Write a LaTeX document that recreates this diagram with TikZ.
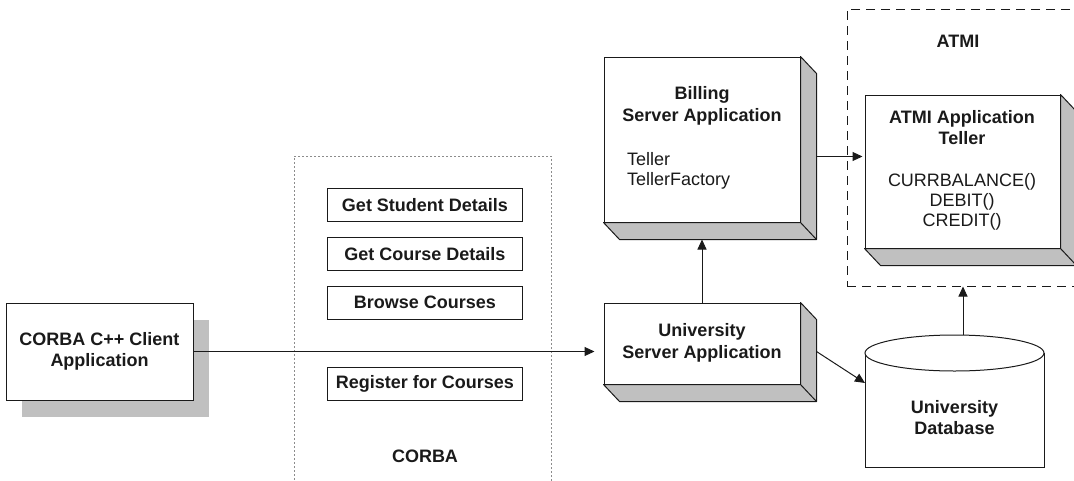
\documentclass[tikz,border=0pt]{standalone}
\usepackage{fontspec}
\setmainfont{Liberation Sans}
\usetikzlibrary{arrows.meta,shadows}
\definecolor{facegray}{HTML}{C0C0C0}
\definecolor{dotgray}{HTML}{8C8C8C}
\definecolor{inkgray}{HTML}{1A1A1A}
\tikzset{
	every node/.style={font=\fontsize{18}{20}\selectfont, text=inkgray},
	title/.style={font=\fontsize{18}{21.5}\selectfont\bfseries, align=center, inner sep=0pt},
	plain/.style={align=center, inner sep=0pt},
	front/.style={draw=inkgray, line width=1pt, fill=white, inner sep=0pt},
	oper/.style={draw=inkgray, line width=1pt, minimum width=195pt, minimum height=33pt, inner sep=0pt, font=\fontsize{18}{20}\selectfont\bfseries},
	flow/.style={draw=inkgray, line width=1pt, -{Triangle[length=10pt,width=9pt]}},
}
\newcommand{\slabside}[1]{
	\filldraw[fill=facegray, draw=inkgray, line width=1pt, line join=round] (#1.north east) -- ++(16,17) -- ([shift={(16,17)}]#1.south east) -- ([shift={(16,17)}]#1.south west) -- (#1.south west) -- (#1.south east) -- cycle;
	\draw[inkgray, line width=1pt] (#1.south east) -- ++(16,17);
}
\begin{document}
\begin{tikzpicture}[x=1pt, y=-1pt]
		\useasboundingbox (0,0) rectangle (1074,480);
		\node[front, minimum width=187pt, minimum height=97pt, drop shadow={shadow xshift=16pt, shadow yshift=-17pt, fill=facegray, opacity=1}] (client) at (99.5,351.5) {};
		\node[title] (clienttext) at (99.5,351.5) {CORBA C++ Client\\Application};
		\node[draw=dotgray, line width=1pt, dash pattern=on 2pt off 2pt, minimum width=257pt, minimum height=340pt, inner sep=0pt] (corba) at (422.5,326) {};
		\node[oper] (op0) at (425,204.7) {Get Student Details};
		\node[oper] (op1) at (425,253.7) {Get Course Details};
		\node[oper] (op2) at (425,302.5) {Browse Courses};
		\node[oper] (op3) at (425,384.3) {Register for Courses};
		\node[title] (corbatext) at (425,456.7) {CORBA};
		\node[front, minimum width=196pt, minimum height=81pt] (uni) at (702,343.5) {};
		\slabside{uni}
		\node[title] (unitext) at (702,343) {University\\Server Application};
		\node[front, minimum width=196pt, minimum height=165pt] (bill) at (702,139.5) {};
		\slabside{bill}
		\node[title] (billtext) at (702,106) {Billing\\Server Application};
		\node[plain, align=left, anchor=west] (billifc) at (627,171) {Teller\\TellerFactory};
		\node[draw=inkgray, line width=1pt, dash pattern=on 9pt off 6pt, minimum width=243pt, minimum height=277pt, inner sep=0pt] (atmi) at (968.5,147.5) {};
		\node[title] (atmitext) at (958,41.7) {ATMI};
		\node[front, minimum width=195pt, minimum height=153pt] (teller) at (962.5,171.5) {};
		\slabside{teller}
		\node[title] (tellertext) at (962,127.5) {ATMI Application\\Teller};
		\node[plain] (tellerops) at (962,201.7) {CURRBALANCE()\\DEBIT()\\CREDIT()};
		\draw[inkgray, line width=1pt, fill=white] (865,353) -- (865,467) -- (1044,467) -- (1044,353);
		\draw[inkgray, line width=1pt, fill=white] (954.5,353) ellipse (89.5 and 18);
		\node[title] (db) at (954.5,417.5) {University\\Database};
		\coordinate (dbtop) at (963,335);
		\coordinate (dbwest) at (865,383);
		\draw[flow, shorten >=9pt] (client.east) -- (client.east -| uni.west);
		\draw[flow] (uni.north) -- ([yshift=-17pt]bill.south);
		\draw[flow] ([shift={(16,17)}]bill.east) -- ([shift={(16,17)}]bill.east -| atmi.west);
		\draw[flow] ([shift={(16,8)}]uni.east) -- (dbwest);
		\draw[flow] (dbtop) -- (dbtop |- atmi.south);
	\end{tikzpicture}
\end{document}
